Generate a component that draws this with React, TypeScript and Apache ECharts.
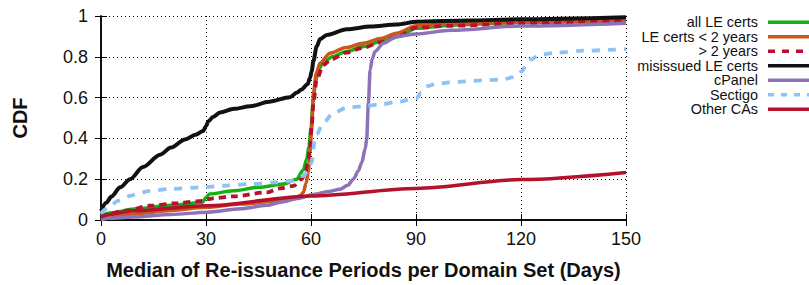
import React, { useEffect, useRef } from "react";
import * as echarts from "echarts";

const xTicks = [0, 30, 60, 90, 120, 150];
const seriesNames = [
  "all LE certs",
  "LE certs < 2 years",
  "> 2 years",
  "misissued LE certs",
  "cPanel",
  "Sectigo",
  "Other CAs",
];
const seriesColors = ["#12b212", "#c8581c", "#b8102e", "#111111", "#8c73b8", "#8ec2f5", "#b5102c"];

const allLE = [
  [0, 0.02], [3, 0.035], [9.5, 0.054], [20, 0.072], [29, 0.086], [30, 0.11], [31, 0.128],
  [37.8, 0.143], [45, 0.16], [52, 0.176], [55.9, 0.2], [57.8, 0.245], [58.8, 0.3], [59.4, 0.36],
  [60, 0.45], [60.6, 0.58], [61.3, 0.68], [62.2, 0.74], [63.5, 0.77], [66, 0.8], [70, 0.825],
  [75, 0.85], [80, 0.875], [85, 0.9], [90, 0.94], [100, 0.955], [120, 0.968], [150, 0.975],
];
const leUnder2 = [
  [0, 0.005], [9.2, 0.03], [20, 0.047], [30, 0.062], [39.7, 0.078], [50, 0.092], [55, 0.102],
  [57, 0.12], [57.8, 0.135], [58.6, 0.18], [59.2, 0.233], [59.7, 0.33], [60.2, 0.45], [60.7, 0.62],
  [61.5, 0.72], [62.6, 0.77], [65.4, 0.818], [70, 0.845], [74.9, 0.867], [80, 0.89], [84.5, 0.916],
  [90, 0.952], [100, 0.962], [120, 0.972], [150, 0.978],
];
const over2 = [
  [0, 0.013], [7, 0.045], [14, 0.07], [22, 0.083], [29.2, 0.094], [30.5, 0.102], [32, 0.106],
  [37.8, 0.116], [47.3, 0.135], [51, 0.155], [55, 0.167], [57.3, 0.2], [58.5, 0.24], [59.2, 0.3],
  [59.7, 0.35], [60.2, 0.46], [60.7, 0.574], [61.6, 0.688], [63.5, 0.76], [66, 0.79], [70, 0.82],
  [75, 0.845], [80, 0.872], [85, 0.9], [90, 0.943], [100, 0.952], [120, 0.964], [150, 0.975],
];
const misissued = [
  [0, 0.045], [1.5, 0.085], [3, 0.115], [5.5, 0.16], [8.3, 0.2], [12, 0.26], [16.9, 0.32],
  [20, 0.355], [24, 0.395], [27, 0.418], [29.2, 0.436], [30, 0.46], [30.7, 0.484], [32, 0.505],
  [34, 0.527], [38, 0.545], [42.6, 0.557], [48, 0.58], [54, 0.602], [56, 0.625], [57.3, 0.64],
  [59, 0.665], [59.7, 0.696], [60.2, 0.73], [60.7, 0.78], [61.6, 0.85], [62.6, 0.887],
  [64.5, 0.907], [70.2, 0.935], [77, 0.948], [84.5, 0.958], [90.2, 0.972], [105, 0.978],
  [119.7, 0.984], [150, 0.994],
];
const cPanel = [
  [0, 0.0], [2, 0.008], [9.2, 0.015], [20, 0.027], [30.2, 0.038], [40, 0.055], [47.3, 0.072],
  [52, 0.09], [56, 0.105], [60.7, 0.125], [65, 0.14], [68.3, 0.151], [70.5, 0.17], [72.1, 0.2],
  [73.5, 0.24], [74.5, 0.281], [75.5, 0.35], [75.9, 0.395], [76.4, 0.574], [76.9, 0.737],
  [77.5, 0.79], [78.3, 0.826], [80.7, 0.867], [84.5, 0.9], [90, 0.912], [100, 0.93],
  [120, 0.951], [150, 0.965],
];
const sectigo = [
  [0, 0.03], [1, 0.05], [2.6, 0.07], [5, 0.095], [8.3, 0.118], [11, 0.133], [14, 0.143],
  [20, 0.152], [28.3, 0.16], [35, 0.168], [42.6, 0.176], [50, 0.184], [54.9, 0.192],
  [57.8, 0.216], [58.8, 0.233], [60.2, 0.281], [61.1, 0.4], [61.6, 0.42], [63.5, 0.477],
  [66.4, 0.525], [70.2, 0.55], [75, 0.558], [79.7, 0.566], [85, 0.58], [90.2, 0.598],
  [91.5, 0.625], [93, 0.655], [96, 0.668], [99.7, 0.675], [109.2, 0.684], [115, 0.69],
  [117.8, 0.7], [119, 0.71], [120.2, 0.728], [121.5, 0.76], [122.6, 0.785], [125.4, 0.81],
  [130, 0.82], [137.8, 0.83], [150, 0.838],
];
const otherCAs = [
  [0, 0.015], [2, 0.027], [9.2, 0.045], [30, 0.07], [60, 0.118], [90, 0.155], [120, 0.198],
  [150, 0.233],
];

const seriesData = [allLE, leUnder2, over2, misissued, cPanel, sectigo, otherCAs];
const lineTypes: any[] = ["solid", "solid", [7, 5], "solid", "solid", [8, 8], "solid"];
const legendLineTypes: any[] = ["solid", "solid", [7, 7], "solid", "solid", [6, 7], "solid"];
const lineWidths = [3.5, 3.5, 3.8, 4, 3.5, 3.8, 3.5];

const FONT = "'Liberation Sans', Arial, sans-serif";

export default function App() {
  const ref = useRef<HTMLDivElement>(null);
  useEffect(() => {
    if (!ref.current) return;
    const chart = echarts.init(ref.current, undefined, { renderer: "svg" });
    const legendGraphics: any[] = [];
    seriesNames.forEach((name, i) => {
      const y = 22.3 + i * 14.5;
      legendGraphics.push({
        type: "text",
        x: 758,
        y: y,
        style: {
          text: name,
          fill: "#111",
          font: `14.4px ${FONT}`,
          lineHeight: 13,
          textAlign: "right",
          textVerticalAlign: "middle",
        },
      });
      legendGraphics.push({
        type: "line",
        shape: { x1: 768, y1: y, x2: 812, y2: y },
        style: {
          stroke: seriesColors[i],
          lineWidth: 3.5,
          lineDash: legendLineTypes[i] === "solid" ? null : legendLineTypes[i],
        },
      });
    });

    const axisLine = { show: true, lineStyle: { color: "#000", width: 1.5 } };
    const tick = { show: true, inside: true, length: 6, lineStyle: { color: "#000", width: 1 } };

    chart.setOption({
      animation: false,
      grid: { left: 101, right: 183, top: 16, bottom: 64 },
      xAxis: [
        {
          type: "value",
          min: 0,
          max: 150,
          interval: 30,
          position: "bottom",
          axisLine,
          axisTick: tick,
          axisLabel: {
            color: "#111",
            fontSize: 18,
            fontFamily: FONT,
            margin: 10,
            formatter: (v: number) => (xTicks.includes(v) ? String(v) : ""),
          },
          splitLine: { show: true, lineStyle: { color: "#000", width: 1, type: [1, 3] } },
          name: "Median of Re-issuance Periods per Domain Set (Days)",
          nameLocation: "middle",
          nameGap: 40,
          nameTextStyle: { fontSize: 20, fontWeight: "bold", color: "#111", fontFamily: FONT },
        },
        {
          type: "value",
          min: 0,
          max: 150,
          interval: 30,
          position: "top",
          axisLine,
          axisTick: tick,
          axisLabel: { show: false },
          splitLine: { show: false },
        },
      ],
      yAxis: [
        {
          type: "value",
          min: 0,
          max: 1,
          interval: 0.2,
          position: "left",
          axisLine,
          axisTick: tick,
          axisLabel: { color: "#111", fontSize: 18, fontFamily: FONT, margin: 13 },
          splitLine: { show: true, lineStyle: { color: "#000", width: 1, type: [1, 3] } },
          name: "CDF",
          nameLocation: "middle",
          nameGap: 71,
          nameTextStyle: { fontSize: 20, fontWeight: "bold", color: "#111", fontFamily: FONT },
        },
        {
          type: "value",
          min: 0,
          max: 1,
          interval: 0.2,
          position: "right",
          axisLine,
          axisTick: tick,
          axisLabel: { show: false },
          splitLine: { show: false },
        },
      ],
      series: seriesNames.map((name, i) => ({
        name,
        type: "line",
        data: seriesData[i],
        showSymbol: false,
        symbol: "none",
        smooth: 0.3,
        smoothMonotone: "x",
        clip: true,
        lineStyle: { color: seriesColors[i], width: lineWidths[i], type: lineTypes[i] },
        z: 3 + i,
      })),
      graphic: legendGraphics,
    });
    return () => chart.dispose();
  }, []);
  return (
    <div
      ref={ref}
      style={{ position: "fixed", left: 0, top: 0, width: 809, height: 285, background: "#fff" }}
    />
  );
}
